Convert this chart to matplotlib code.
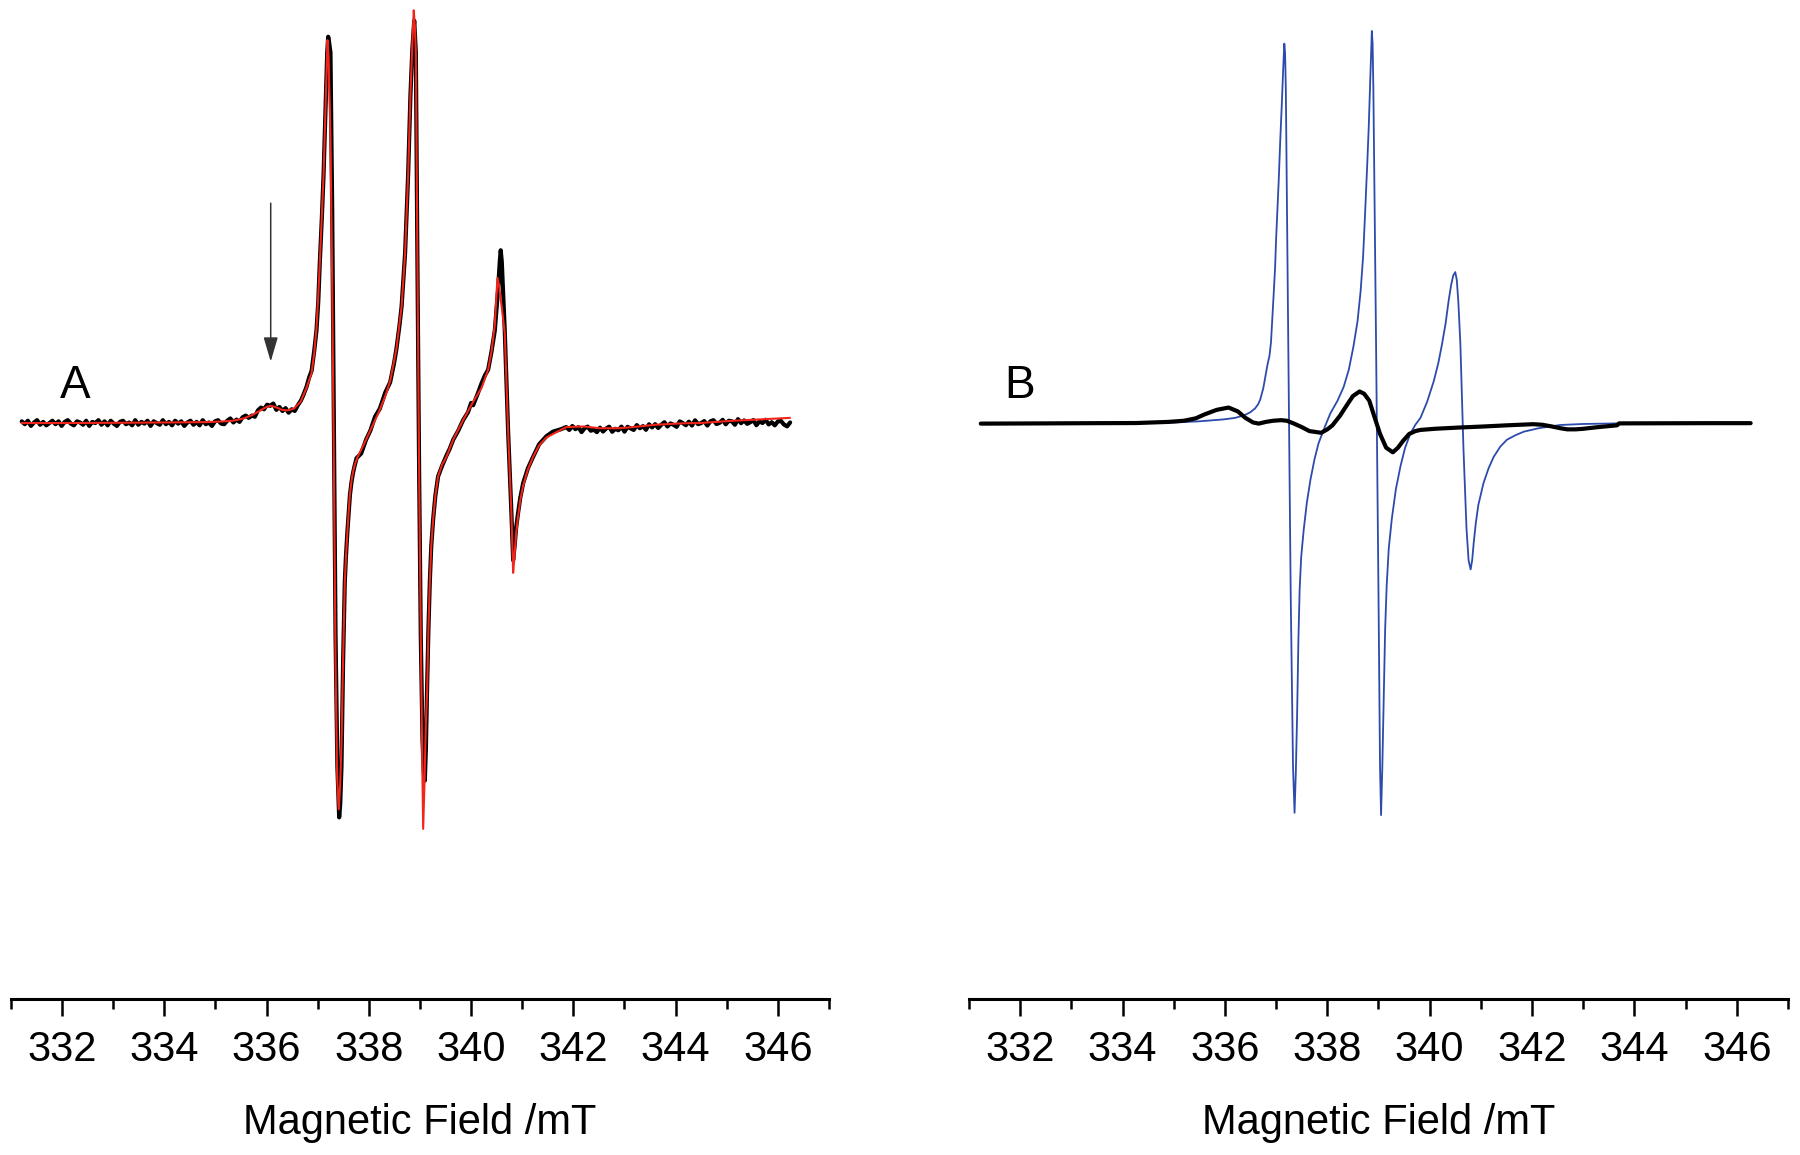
import matplotlib
matplotlib.use('Agg')
import matplotlib.pyplot as plt
from matplotlib.ticker import FixedLocator

plt.rcParams['font.family'] = ['Liberation Sans', 'DejaVu Sans']

# ---------------- data (field in mT, intensity in arbitrary units) ----------------
major_ticks = [332, 334, 336, 338, 340, 342, 344, 346]
minor_ticks = [331, 333, 335, 337, 339, 341, 343, 345, 347]
tick_labels = ['332', '334', '336', '338', '340', '342', '344', '346']
x_label = 'Magnetic Field /mT'

# Panel A: experimental spectrum (black, noisy), three segments
a_exp_field_low = [
    331.21, 331.27, 331.33, 331.39, 331.45, 331.51, 331.57, 331.63, 331.69, 331.75,
    331.81, 331.87, 331.93, 331.99, 332.05, 332.11, 332.17, 332.23, 332.29, 332.35,
    332.41, 332.47, 332.53, 332.59, 332.65, 332.71, 332.77, 332.83, 332.89, 332.95,
    333.01, 333.07, 333.13, 333.19, 333.25, 333.31, 333.37, 333.43, 333.49, 333.55,
    333.61, 333.67, 333.73, 333.79, 333.85, 333.91, 333.97, 334.03, 334.09, 334.15,
    334.21, 334.27, 334.33, 334.39, 334.45, 334.51, 334.57, 334.63, 334.69, 334.75,
    334.81, 334.87, 334.93, 334.99, 335.05, 335.11, 335.17, 335.23, 335.29, 335.35,
    335.41, 335.47, 335.53, 335.59, 335.65, 335.71, 335.77, 335.83, 335.89, 335.95,
    336.01, 336.07, 336.13, 336.19, 336.25, 336.31, 336.37, 336.43, 336.49, 336.55,
    336.61, 336.67]
a_exp_int_low = [
    1.0, -1.5, 1.5, -3.0, 0.0, 2.0, -2.0, 0.5, -2.5, -0.5,
    1.5, -1.5, 1.0, -3.0, 0.5, 2.0, -1.0, -2.5, 1.0, 0.0,
    -2.0, 1.5, -3.0, 0.5, -0.5, 2.0, -2.0, 1.0, -2.5, 1.5,
    -1.0, -3.0, 0.5, 1.5, -1.5, 0.0, -2.5, 2.0, -2.0, 0.5,
    -1.0, 1.5, -3.0, 1.0, -0.5, -2.0, 2.0, -1.5, 0.5, -2.5,
    1.5, -1.0, 1.0, -3.0, 0.0, 1.5, -2.0, 0.5, -2.5, 2.0,
    -1.5, 0.0, -3.0, 1.0, 2.0, -1.0, -1.5, 1.5, 3.5, 0.0,
    2.5, 0.5, 4.5, 6.0, 4.0, 6.0, 5.0, 10.5, 13.0, 11.5,
    15.5, 14.5, 16.5, 11.0, 13.5, 10.0, 12.5, 8.5, 11.5, 10.0,
    15.0, 19.0]
a_exp_field_mid = [
    336.72, 336.78, 336.83, 336.88, 336.93, 336.975, 337.01, 337.04, 337.08, 337.114,
    337.14, 337.159, 337.185, 337.204, 337.22, 337.249, 337.283, 337.316, 337.348, 337.384,
    337.419, 337.44, 337.464, 337.496, 337.529, 337.55, 337.58, 337.60, 337.63, 337.66,
    337.69, 337.72, 337.76, 337.85, 337.945, 338.03, 338.12, 338.214, 338.32, 338.416,
    338.49, 338.539, 338.60, 338.64, 338.708, 338.768, 338.813, 338.85, 338.887, 338.919,
    338.950, 338.984, 339.015, 339.049, 339.075, 339.094, 339.115, 339.139, 339.165, 339.192,
    339.22, 339.258, 339.30, 339.354, 339.43, 339.516, 339.58, 339.65, 339.75, 339.843,
    339.94, 340.0, 340.039, 340.12, 340.203, 340.27, 340.333, 340.40, 340.463, 340.526,
    340.56, 340.579, 340.60, 340.658, 340.723, 340.788, 340.822, 340.85, 340.88, 340.918,
    340.96, 341.017, 341.11, 341.212, 341.33, 341.473, 341.6, 341.75, 341.86]
a_exp_int_mid = [
    24, 31, 39, 45, 62, 80, 105, 139, 178, 216,
    255, 285, 322, 336, 332, 322, 184, 0, -185, -300,
    -344, -332, -300, -208, -139, -118, -95, -82, -63, -52,
    -44, -38, -31, -27, -15, -7, 5, 12, 26, 35,
    51, 64, 85, 101, 147, 216, 285, 325, 350, 322,
    138, -47, -185, -277, -305, -312, -285, -231, -180, -139,
    -108, -84, -64, -47, -38, -29, -23, -15, -7, 2,
    9, 17, 15, 24, 34, 41, 46, 62, 80, 115,
    140, 150, 140, 80, -7, -79, -120, -108, -92, -79,
    -66, -53, -40, -30, -19, -12, -8, -6, -4]
a_exp_field_high = [
    341.92, 341.98, 342.04, 342.10, 342.16, 342.22, 342.28, 342.34, 342.40, 342.46,
    342.52, 342.58, 342.64, 342.70, 342.76, 342.82, 342.88, 342.94, 343.00, 343.06,
    343.12, 343.18, 343.24, 343.30, 343.36, 343.42, 343.48, 343.54, 343.60, 343.66,
    343.72, 343.78, 343.84, 343.90, 343.96, 344.02, 344.08, 344.14, 344.20, 344.26,
    344.32, 344.38, 344.44, 344.50, 344.56, 344.62, 344.68, 344.74, 344.80, 344.86,
    344.92, 344.98, 345.04, 345.10, 345.16, 345.22, 345.28, 345.34, 345.40, 345.46,
    345.52, 345.58, 345.64, 345.70, 345.76, 345.82, 345.88, 345.94, 346.00, 346.06,
    346.12, 346.18, 346.24]
a_exp_int_high = [
    -6.5, -3.1, -5.8, -4.1, -8.4, -5.0, -3.6, -7.2, -6.3, -8.4,
    -4.5, -7.9, -5.3, -3.7, -8.1, -5.5, -6.8, -3.6, -8.0, -3.8,
    -5.2, -6.5, -2.3, -5.0, -3.2, -6.4, -1.6, -4.3, -1.5, -4.8,
    -2.0, 0.2, -3.5, -0.8, -2.1, -3.8, 0.9, -0.5, -2.4, 0.7,
    -2.7, 1.9, -1.5, -0.5, 1.2, -2.7, 1.0, 2.0, -1.4, -0.3,
    2.3, -1.6, 1.5, 1.0, -2.0, 2.9, -0.6, 1.8, -1.2, 0.2,
    2.1, -2.4, 1.0, -0.5, 2.4, -1.7, 0.2, -2.5, 0.9, 1.3,
    -1.8, -3.4, 0.0]

# Panel A: simulated spectrum (red)
a_sim_field = [
    331.21, 332.0, 333.0, 334.0, 334.8, 335.1, 335.34, 335.55, 335.72, 335.88,
    336.0, 336.08, 336.17, 336.30, 336.40, 336.53, 336.665, 336.778, 336.879, 336.93,
    336.975, 337.01, 337.04, 337.08, 337.114, 337.159, 337.19, 337.21, 337.249, 337.283,
    337.316, 337.348, 337.38, 337.41, 337.44, 337.464, 337.496, 337.529, 337.555, 337.58,
    337.605, 337.63, 337.66, 337.69, 337.73, 337.78, 337.945, 338.08, 338.214, 338.32,
    338.416, 338.539, 338.64, 338.708, 338.768, 338.813, 338.85, 338.878, 338.90, 338.919,
    338.950, 338.984, 339.015, 339.04, 339.062, 339.09, 339.115, 339.139, 339.165, 339.192,
    339.22, 339.258, 339.30, 339.354, 339.43, 339.516, 339.65, 339.843, 340.039, 340.203,
    340.333, 340.40, 340.463, 340.515, 340.55, 340.60, 340.658, 340.723, 340.788, 340.822,
    340.85, 340.88, 340.918, 340.96, 341.017, 341.11, 341.212, 341.33, 341.473, 341.863,
    342.2, 342.514, 342.9, 343.167, 343.6, 344.144, 344.47, 345.122, 345.7, 346.231]
a_sim_int = [
    -0.5, -0.5, -0.3, 0, 0.3, 0.8, 1.5, 3.5, 6.5, 10.5,
    13.5, 14.5, 13.5, 11, 10.5, 12, 18, 30, 43, 60,
    82, 110, 139, 180, 216, 285, 333, 320, 250, 120,
    -40, -210, -310, -337, -315, -280, -205, -139, -115, -95,
    -78, -62, -51, -43, -36, -30, -15, -2, 11, 23,
    36, 64, 101, 147, 216, 285, 330, 359, 345, 322,
    138, -47, -185, -280, -354, -310, -262, -235, -180, -139,
    -108, -84, -64, -47, -37, -30, -15, 2, 18, 30,
    46, 62, 85, 126, 118, 100, 78, -7, -79, -131,
    -115, -97, -82, -68, -55, -41, -30, -20, -13, -4,
    -3.5, -5, -5, -4, -2, -0.7, -0.5, 1.5, 2.8, 4]

# Panel B: simulated component (blue)
b_sim_field = [
    334.2, 335.0, 335.5, 335.98, 336.2, 336.39, 336.5, 336.59, 336.65, 336.69,
    336.75, 336.79, 336.83, 336.87, 336.90, 336.95, 336.98, 337.00, 337.05, 337.08,
    337.11, 337.14, 337.16, 337.175, 337.19, 337.235, 337.285, 337.33, 337.36, 337.385,
    337.41, 337.435, 337.46, 337.49, 337.54, 337.60, 337.67, 337.75, 337.83, 337.95,
    338.06, 338.20, 338.32, 338.42, 338.51, 338.59, 338.65, 338.70, 338.74, 338.78,
    338.81, 338.84, 338.87, 338.885, 338.90, 338.95, 339.00, 339.03, 339.05, 339.075,
    339.10, 339.13, 339.16, 339.20, 339.26, 339.34, 339.43, 339.52, 339.62, 339.72,
    339.82, 339.95, 340.08, 340.17, 340.24, 340.31, 340.37, 340.42, 340.46, 340.50,
    340.53, 340.56, 340.60, 340.66, 340.72, 340.76, 340.80, 340.83, 340.86, 340.90,
    340.95, 341.05, 341.15, 341.25, 341.38, 341.51, 341.68, 341.84, 342.13, 342.55,
    343.0, 343.66]
b_sim_int = [
    -0.3, 0, 1, 2.7, 4, 6.5, 9, 12.3, 16, 20,
    30, 40, 50, 58, 70, 110, 135, 160, 210, 245,
    276, 310, 330, 322, 290, 80, -150, -300, -340, -305,
    -255, -190, -145, -117, -93, -70, -50, -32, -18, -4,
    8, 19, 31, 46, 66, 88, 114, 145, 184, 225,
    258, 300, 341, 330, 290, 80, -150, -300, -342, -300,
    -245, -180, -142, -110, -84, -58, -38, -22, -10, -2,
    4, 18, 36, 52, 68, 86, 106, 120, 128, 131,
    124, 105, 68, -23, -93, -120, -128, -120, -105, -88,
    -72, -53, -40, -30, -21, -15, -11, -8, -5, -2.2,
    -1.3, -0.8]

# Panel B: residual / second component (black)
b_res_field = [
    331.23, 332.5, 333.5, 334.26, 334.9, 335.2, 335.43, 335.6, 335.84, 336.07,
    336.25, 336.40, 336.55, 336.66, 336.80, 336.94, 337.10, 337.21, 337.35, 337.50,
    337.65, 337.88, 338.00, 338.10, 338.25, 338.38, 338.50, 338.63, 338.72, 338.82,
    338.92, 339.03, 339.15, 339.28, 339.38, 339.48, 339.60, 339.72, 339.82, 340.10,
    340.53, 341.05, 341.5, 342.02, 342.20, 342.39, 342.55, 342.69, 342.85, 343.0,
    343.3, 343.66, 343.70, 344.5, 345.5, 346.27]
b_res_int = [
    -1, -0.8, -0.6, -0.5, 0.5, 1.5, 3.6, 7, 11, 13,
    9.7, 4, 0, -1, 0.5, 1.5, 2, 1.5, -1, -4,
    -7.5, -9, -6, -2.5, 6, 15, 23, 27, 25, 19,
    5, -10, -22, -26, -22, -16, -10, -7.5, -6.5, -5.5,
    -4.5, -3.5, -2.5, -1.5, -2, -3.5, -5, -6, -6, -5.5,
    -4, -2.5, -0.8, -0.7, -0.6, -0.6]

# annotations
arrow_field = 336.08
arrow_tail = 191
arrow_tip = 53
label_A = ('A', 332.25, 21)
label_B = ('B', 331.98, 21)

# ---------------- figure ----------------
fig = plt.figure(figsize=(18, 11.55), dpi=100)
axA = fig.add_axes([0.00611, 0.13506, 0.45444, 0.86494])
axB = fig.add_axes([0.53833, 0.13506, 0.455, 0.86494])

for ax in (axA, axB):
    ax.set_xlim(331, 347)
    ax.set_ylim(-502.2, 368)
    for s in ('left', 'right', 'top'):
        ax.spines[s].set_visible(False)
    ax.spines['bottom'].set_linewidth(2.2)
    ax.set_yticks([])
    ax.xaxis.set_major_locator(FixedLocator(major_ticks))
    ax.xaxis.set_minor_locator(FixedLocator(minor_ticks))
    ax.set_xticklabels(tick_labels)
    ax.tick_params(axis='x', which='major', length=12, width=1.8, labelsize=30, pad=10)
    ax.tick_params(axis='x', which='minor', length=7, width=1.8)
    ax.set_xlabel(x_label, fontsize=30, labelpad=24)
    ax.patch.set_alpha(0)

a_field = a_exp_field_low + a_exp_field_mid + a_exp_field_high
a_int = a_exp_int_low + a_exp_int_mid + a_exp_int_high
axA.plot(a_field, a_int, color='black', lw=3.0, zorder=2,
         solid_joinstyle='round', solid_capstyle='round')
axA.plot(a_sim_field, a_sim_int, color='#f2251a', lw=1.5, zorder=3)
axA.annotate('', xy=(arrow_field, arrow_tip), xytext=(arrow_field, arrow_tail),
             arrowprops=dict(arrowstyle='-|>,head_length=0.75,head_width=0.22',
                             mutation_scale=20, lw=1.1, color='#333333',
                             shrinkA=0, shrinkB=0))
axA.text(label_A[1], label_A[2], label_A[0], fontsize=33, ha='center', va='baseline')

axB.plot(b_sim_field, b_sim_int, color='#2c4bac', lw=1.3, zorder=2,
         solid_joinstyle='round')
axB.plot(b_res_field, b_res_int, color='black', lw=3.0, zorder=3,
         solid_capstyle='round', solid_joinstyle='round')
axB.text(label_B[1], label_B[2], label_B[0], fontsize=33, ha='center', va='baseline')

fig.savefig('out.png', dpi=100)
